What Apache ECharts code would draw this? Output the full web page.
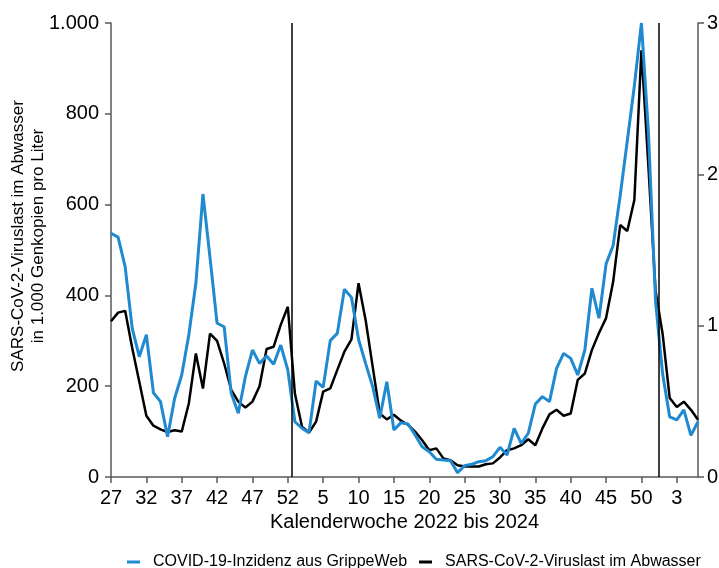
<!DOCTYPE html>
<html>
<head>
<meta charset="utf-8">
<script src="https://cdn.jsdelivr.net/npm/echarts@6/dist/echarts.min.js"></script>
<style>
  html, body { margin: 0; padding: 0; background: #fff; }
  #chart { width: 719px; height: 568px; }
</style>
</head>
<body>
<div id="chart"></div>
<script>
// Kalenderwochen: KW 27/2022 bis KW 6/2024
const weeks = [
  27, 28, 29, 30, 31, 32, 33, 34, 35, 36, 37, 38, 39, 40, 41, 42, 43, 44, 45, 46, 47, 48, 49, 50, 51, 52,
  1, 2, 3, 4, 5, 6, 7, 8, 9, 10, 11, 12, 13, 14, 15, 16, 17, 18, 19, 20, 21, 22, 23, 24, 25, 26,
  27, 28, 29, 30, 31, 32, 33, 34, 35, 36, 37, 38, 39, 40, 41, 42, 43, 44, 45, 46, 47, 48, 49, 50, 51, 52,
  1, 2, 3, 4, 5, 6
];

// SARS-CoV-2-Viruslast im Abwasser (1.000 Genkopien pro Liter), linke Achse
const abwasser = [
  343, 362, 366, 284, 210, 135, 113, 105, 99, 103, 100, 162, 272, 195, 316, 300, 250, 192, 166, 153,
  166, 200, 282, 287, 335, 375, 184, 111, 98, 122, 188, 195, 236, 276, 303, 427, 346, 243, 140, 127,
  137, 124, 115, 100, 81, 59, 63, 41, 37, 26, 23, 23, 23, 28, 30, 43, 59, 63, 70, 83,
  70, 107, 138, 148, 135, 140, 214, 228, 280, 317, 350, 430, 555, 542, 610, 940, 680, 410, 315, 174,
  154, 166, 148, 126
];

// COVID-19-Inzidenz aus GrippeWeb (pro 100.000), rechte Achse
const grippeweb = [
  1610, 1585, 1390, 982, 795, 940, 557, 498, 266, 520, 674, 938, 1280, 1870, 1450, 1016, 993, 553, 421, 663,
  839, 751, 800, 745, 872, 707, 365, 322, 293, 634, 593, 901, 949, 1240, 1187, 910, 751, 597, 388, 630,
  311, 359, 350, 278, 200, 167, 117, 112, 108, 29, 75, 84, 101, 108, 134, 196, 145, 322, 222, 289,
  482, 531, 498, 718, 817, 784, 674, 839, 1247, 1049, 1407, 1530, 1860, 2220, 2585, 3000, 2270, 1160, 680, 397,
  377, 443, 275, 365
];

const leftTicks = [0, 200, 400, 600, 800, 1000];
const rightTicks = [0, 1000, 2000, 3000];

const nameBlue = 'COVID-19-Inzidenz aus GrippeWeb';
const nameBlack = 'SARS-CoV-2-Viruslast im Abwasser';

// Jahreswechsel: zwischen KW 52 und KW 1
const yearBreaks = [];
for (let i = 1; i < weeks.length; i++) {
  if (weeks[i] < weeks[i - 1]) yearBreaks.push(i - 0.5);
}
const tickIdx = weeks.map((w, i) => i).filter(i => i % 5 === 0);

function fmtDe(v) {
  return String(v).replace(/\B(?=(\d{3})+(?!\d))/g, '.');
}

const font = 'Liberation Sans, Arial, sans-serif';
const axisGray = '#595959';

const chart = echarts.init(document.getElementById('chart'));
chart.setOption({
  animation: false,
  textStyle: { fontFamily: font },
  grid: { left: 111, right: 21, top: 23, bottom: 91, containLabel: false, outerBoundsMode: 'none' },
  legend: {
    left: 122,
    top: 549,
    icon: 'rect',
    itemWidth: 13,
    itemHeight: 3,
    itemGap: 12,
    data: [nameBlue, nameBlack],
    textStyle: { fontSize: 16, color: '#000', fontFamily: font, padding: [0, 0, 0, 8] }
  },
  graphic: [{
    type: 'text',
    x: 28,
    y: 236,
    rotation: Math.PI / 2,
    style: {
      text: 'SARS-CoV-2-Viruslast im Abwasser\nin 1.000 Genkopien pro Liter',
      font: '17px ' + font,
      fill: '#000',
      align: 'center',
      verticalAlign: 'middle',
      lineHeight: 20
    }
  }],
  xAxis: {
    type: 'value',
    min: 0,
    max: weeks.length - 1,
    name: 'Kalenderwoche 2022 bis 2024',
    nameLocation: 'middle',
    nameGap: 34,
    nameTextStyle: { fontSize: 20, color: '#000' },
    splitLine: { show: false },
    axisLine: { show: true, onZero: false, lineStyle: { color: axisGray, width: 1.5 } },
    axisTick: { show: true, length: 6, customValues: tickIdx, lineStyle: { color: axisGray, width: 1.5 } },
    axisLabel: {
      customValues: tickIdx,
      formatter: v => String(weeks[Math.round(v)]),
      fontSize: 20,
      color: '#000',
      margin: 11
    }
  },
  yAxis: [{
    type: 'value',
    position: 'left',
    min: leftTicks[0],
    max: leftTicks[leftTicks.length - 1],
    interval: leftTicks[1] - leftTicks[0],
    splitLine: { show: false },
    axisLine: { show: true, lineStyle: { color: axisGray, width: 1.5 } },
    axisTick: { show: true, length: 6, lineStyle: { color: axisGray, width: 1.5 } },
    axisLabel: { formatter: fmtDe, fontSize: 20, color: '#000', margin: 12 }
  }, {
    type: 'value',
    position: 'right',
    min: rightTicks[0],
    max: rightTicks[rightTicks.length - 1],
    interval: rightTicks[1] - rightTicks[0],
    splitLine: { show: false },
    axisLine: { show: true, lineStyle: { color: axisGray, width: 1.5 } },
    axisTick: { show: true, length: 6, lineStyle: { color: axisGray, width: 1.5 } },
    axisLabel: { formatter: fmtDe, fontSize: 20, color: '#000', margin: 9 }
  }],
  series: [{
    name: nameBlack,
    type: 'line',
    yAxisIndex: 0,
    data: abwasser.map((v, i) => [i, v]),
    showSymbol: false,
    symbol: 'none',
    color: '#000',
    lineStyle: { color: '#000', width: 2.5 },
    markLine: {
      silent: true,
      symbol: 'none',
      label: { show: false },
      lineStyle: { color: '#000', width: 1.5, type: 'solid' },
      data: yearBreaks.map(x => ({ xAxis: x }))
    }
  }, {
    name: nameBlue,
    type: 'line',
    yAxisIndex: 1,
    data: grippeweb.map((v, i) => [i, v]),
    showSymbol: false,
    symbol: 'none',
    color: '#1f8ad0',
    lineStyle: { color: '#1f8ad0', width: 3 }
  }]
});
</script>
</body>
</html>
